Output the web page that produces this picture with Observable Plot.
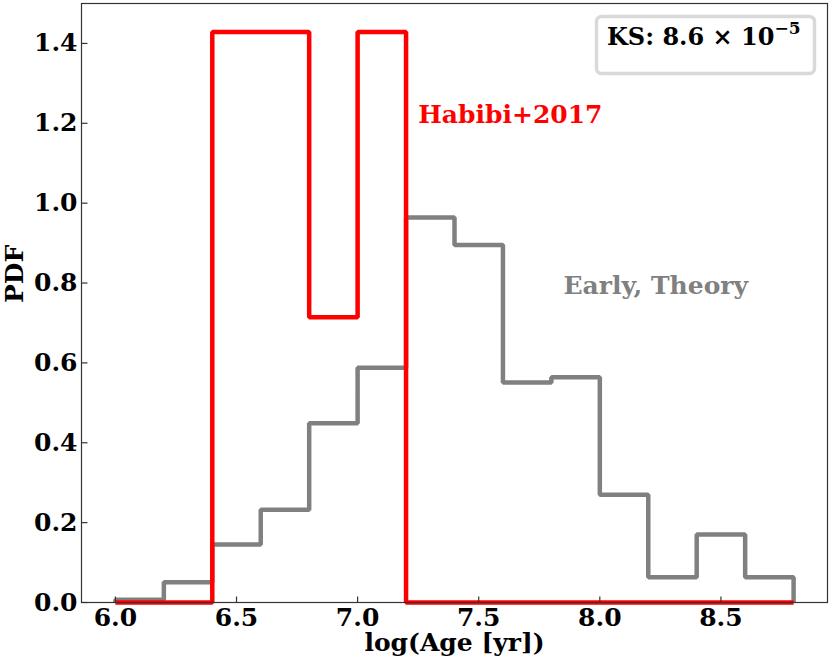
<!DOCTYPE html>
<html><head><meta charset="utf-8">
<script src="https://cdn.jsdelivr.net/npm/d3@7"></script>
<script src="https://cdn.jsdelivr.net/npm/@observablehq/plot@0.6"></script>
<style>body{margin:0;background:#fff}</style>
</head><body><div id="chart"></div>
<script>
const binEdges = [6.0, 6.2, 6.4, 6.6, 6.8, 7.0, 7.2, 7.4, 7.6, 7.8, 8.0, 8.2, 8.4, 8.6, 8.8];
const habibiPdf = [0, 0, 1.4286, 1.4286, 0.7143, 1.4286, 0, 0, 0, 0, 0, 0, 0, 0];
const theoryPdf = [0.007, 0.051, 0.145, 0.232, 0.449, 0.588, 0.964, 0.895, 0.551, 0.564, 0.270, 0.063, 0.170, 0.063];
const xTicks = [6.0, 6.5, 7.0, 7.5, 8.0, 8.5];
const yTicks = [0.0, 0.2, 0.4, 0.6, 0.8, 1.0, 1.2, 1.4];
const xLabel = "log(Age [yr])";
const yLabel = "PDF";
const habibiLabel = "Habibi+2017";
const theoryLabel = "Early, Theory";
const ksMain = "KS: 8.6 × 10";
const ksExp = "−5";

function stepPath(vals) {
  const pts = [{x: binEdges[0], y: 0}];
  vals.forEach((v, i) => { pts.push({x: binEdges[i], y: v}, {x: binEdges[i + 1], y: v}); });
  pts.push({x: binEdges[binEdges.length - 1], y: 0});
  return pts;
}

// inward tick symbols
const tickUp = {draw(ctx) { ctx.moveTo(0, 0); ctx.lineTo(0, -6); }};
const tickRight = {draw(ctx) { ctx.moveTo(0, 0); ctx.lineTo(6, 0); }};

const FONT = "DejaVu Serif";
const plot = Plot.plot({
  width: 830, height: 664,
  marginLeft: 81, marginRight: 3, marginTop: 3, marginBottom: 62,
  style: {fontFamily: FONT, fontWeight: "bold", fontSize: "25px", color: "#000", background: "#fff", overflow: "visible"},
  x: {domain: [5.86, 8.94]},
  y: {domain: [0, 1.5]},
  marks: [
    Plot.line(stepPath(theoryPdf), {x: "x", y: "y", stroke: "#808080", strokeWidth: 4.5, strokeLinejoin: "miter", strokeLinecap: "butt"}),
    Plot.line(stepPath(habibiPdf), {x: "x", y: "y", stroke: "#ff0000", strokeWidth: 4.5, strokeLinejoin: "miter", strokeLinecap: "butt"}),
    Plot.frame({stroke: "#333", strokeWidth: 1.2}),
    Plot.dot(xTicks, {x: d => d, frameAnchor: "bottom", symbol: tickUp, stroke: "#333", strokeWidth: 1.2, fill: "none"}),
    Plot.dot(yTicks, {y: d => d, frameAnchor: "left", symbol: tickRight, stroke: "#333", strokeWidth: 1.2, fill: "none"}),
    Plot.axisX({ticks: xTicks, tickFormat: d3.format(".1f"), tickSize: 0, tickPadding: 6, label: null}),
    Plot.axisY({ticks: yTicks, tickFormat: d3.format(".1f"), tickSize: 0, tickPadding: 4, label: null}),
    Plot.text([xLabel], {text: d => d, frameAnchor: "bottom", dy: 48, lineAnchor: "bottom", fontSize: 25}),
    Plot.text([yLabel], {text: d => d, frameAnchor: "left", dx: -67, rotate: -90, lineAnchor: "middle", fontSize: 25}),
    Plot.text([habibiLabel], {text: d => d, x: 7.25, y: 1.2, textAnchor: "start", lineAnchor: "bottom", fill: "#ff0000", fontSize: 25}),
    Plot.text([theoryLabel], {text: d => d, x: 7.85, y: 0.772, textAnchor: "start", lineAnchor: "bottom", fill: "#808080", fontSize: 25})
  ]
});
document.getElementById("chart").appendChild(plot);

const svg = d3.select(plot);
const g = svg.append("g");
g.append("rect").attr("x", 596.5).attr("y", 16.5).attr("width", 218).attr("height", 57).attr("rx", 5)
  .attr("fill", "#fff").attr("stroke", "#d9d9d9").attr("stroke-width", 3.5);
const t = g.append("text").attr("x", 607).attr("y", 44.5).attr("text-anchor", "start")
  .attr("font-family", FONT).attr("font-weight", "bold").attr("font-size", 24).attr("fill", "#000");
t.append("tspan").text(ksMain);
t.append("tspan").attr("dy", -11).attr("font-size", 17).text(ksExp);
</script>
</body></html>
